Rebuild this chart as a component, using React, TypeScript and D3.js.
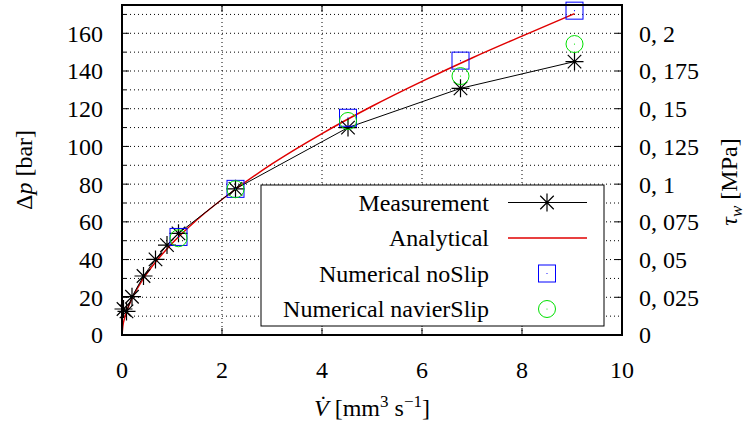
import React from "react";
import * as d3 from "d3";

// measurement (flow rate mm^3/s, pressure drop bar)
const measX = [0.03, 0.09, 0.2, 0.43, 0.67, 0.9, 1.13, 2.27, 4.52, 6.77, 9.05];
const measY = [13.8, 12.5, 20.3, 31.3, 40.1, 47.7, 53.9, 77.5, 110, 130.8, 145];

const anaX = [0, 0.02, 0.05, 0.1, 0.2, 0.4, 0.7, 1, 1.5, 2.27, 3, 4, 5, 6, 7, 8, 9.05];
const anaY = [0, 5.2, 8.8, 13.1, 19.4, 28.8, 39.6, 48.5, 61.1, 77.3, 90.7, 106.8, 121.3, 134.5, 146.9, 158.5, 170.4];

const noSlipX = [1.13, 2.27, 4.52, 6.77, 9.05];
const noSlipY = [52, 77.5, 115.2, 145.5, 172];

const navierX = [1.13, 2.27, 4.52, 6.77, 9.05];
const navierY = [51.3, 77.3, 113.5, 137.3, 154.3];

const xTicks = [0, 2, 4, 6, 8, 10];
const yTicks = [0, 20, 40, 60, 80, 100, 120, 140, 160];
const yMinor = [10, 30, 50, 70, 90, 110, 130, 150, 170];
const tauTicks = [0, 0.025, 0.05, 0.075, 0.1, 0.125, 0.15, 0.175, 0.2];

const legendItems = ["Measurement", "Analytical", "Numerical noSlip", "Numerical navierSlip"];

const W = 745;
const H = 425;
const margin = { left: 122, right: 123, top: 5, bottom: 90 };
const FONT = "Liberation Serif, DejaVu Serif, serif";

function star(cx: number, cy: number, r: number) {
  return `M${cx - r},${cy}L${cx + r},${cy}M${cx},${cy - r}L${cx},${cy + r}` +
    `M${cx - r * 0.75},${cy - r * 0.75}L${cx + r * 0.75},${cy + r * 0.75}` +
    `M${cx - r * 0.75},${cy + r * 0.75}L${cx + r * 0.75},${cy - r * 0.75}`;
}

const fmtTau = (d: number) => (d === 0 ? "0" : d3.format(".3~f")(d).replace(".", ", "));

export default function App() {
  const x = d3.scaleLinear().domain([0, 10]).range([margin.left, W - margin.right]);
  const y = d3.scaleLinear().domain([0, 175]).range([H - margin.bottom, margin.top]);
  const y2 = d3.scaleLinear().domain([0, 0.21875]).range([H - margin.bottom, margin.top]);

  const x0 = margin.left, x1 = W - margin.right;
  const y0 = H - margin.bottom, y1 = margin.top;

  const measLine = d3.line<[number, number]>().x((d) => x(d[0])).y((d) => y(d[1]));
  const measPts: [number, number][] = measX.map((v, i) => [v, measY[i]]);
  // sort by x for the connecting line
  const measSorted = [...measPts].sort((a, b) => a[0] - b[0]);
  const anaPts: [number, number][] = anaX.map((v, i) => [v, anaY[i]]);
  const anaLine = d3.line<[number, number]>().x((d) => x(d[0])).y((d) => y(d[1])).curve(d3.curveMonotoneX);

  const gridH = [...yTicks, ...yMinor].filter((v) => v > 0 && v < 175);
  const gridV = xTicks.filter((v) => v > 0 && v < 10);

  // legend geometry
  const lg = { left: 261, top: 185, right: 604, bottom: 326 };
  const rowY = [202.5, 238, 273.5, 309];
  const textRight = 489;
  const sampleL = 508, sampleR = 587, sampleM = 547;

  const txt = { fontFamily: FONT };

  return (
    <svg width={W} height={H} style={{ position: "absolute", left: 0, top: 0, background: "#fff", fontFamily: FONT }}>
      {/* grid */}
      <g stroke="#000" strokeWidth={1} strokeDasharray="1,3">
        {gridH.map((v) => (
          <line key={"h" + v} x1={x0} x2={x1} y1={y(v)} y2={y(v)} />
        ))}
        {gridV.map((v) => (
          <line key={"v" + v} x1={x(v)} x2={x(v)} y1={y0} y2={y1} />
        ))}
      </g>

      {/* ticks */}
      <g stroke="#000" strokeWidth={1}>
        {yTicks.map((v) => (
          <line key={"yt" + v} x1={x0} x2={x0 + 7} y1={y(v)} y2={y(v)} />
        ))}
        {yMinor.map((v) => (
          <line key={"ym" + v} x1={x0} x2={x0 + 4} y1={y(v)} y2={y(v)} />
        ))}
        {tauTicks.map((v) => (
          <line key={"tt" + v} x1={x1} x2={x1 - 7} y1={y2(v)} y2={y2(v)} />
        ))}
        {gridV.map((v) => (
          <g key={"xt" + v}>
            <line x1={x(v)} x2={x(v)} y1={y0} y2={y0 - 7} />
            <line x1={x(v)} x2={x(v)} y1={y1} y2={y1 + 7} />
          </g>
        ))}
      </g>

      {/* series */}
      <path d={anaLine(anaPts) || ""} fill="none" stroke="#e00000" strokeWidth={1.5} />
      <path d={measLine(measSorted) || ""} fill="none" stroke="#000" strokeWidth={1} />
      {measPts.map((d, i) => (
        <path key={"m" + i} d={star(x(d[0]), y(d[1]), 9)} stroke="#000" strokeWidth={1.2} fill="none" />
      ))}
      {noSlipX.map((v, i) => (
        <g key={"n" + i}>
          <rect x={x(v) - 8.5} y={y(noSlipY[i]) - 8.5} width={17} height={17} fill="none" stroke="#0000ff" strokeWidth={1} />
          <circle cx={x(v)} cy={y(noSlipY[i])} r={0.6} fill="#0000ff" />
        </g>
      ))}
      {navierX.map((v, i) => (
        <g key={"c" + i}>
          <circle cx={x(v)} cy={y(navierY[i])} r={8.5} fill="none" stroke="#00e000" strokeWidth={1} />
          <circle cx={x(v)} cy={y(navierY[i])} r={0.6} fill="#00e000" />
        </g>
      ))}

      {/* legend */}
      <rect x={lg.left} y={lg.top} width={lg.right - lg.left} height={lg.bottom - lg.top}
        fill="#fff" stroke="#000" strokeWidth={1} />
      {legendItems.map((t, i) => (
        <text key={t} style={txt} x={textRight} y={rowY[i]} dy="0.35em" textAnchor="end" fontSize={24}>{t}</text>
      ))}
      <line x1={sampleL} x2={sampleR} y1={rowY[0]} y2={rowY[0]} stroke="#000" strokeWidth={1} />
      <path d={star(sampleM, rowY[0], 9)} stroke="#000" strokeWidth={1.2} fill="none" />
      <line x1={sampleL} x2={sampleR} y1={rowY[1]} y2={rowY[1]} stroke="#e00000" strokeWidth={1.5} />
      <rect x={sampleM - 8.5} y={rowY[2] - 8.5} width={17} height={17} fill="none" stroke="#0000ff" strokeWidth={1} />
      <circle cx={sampleM} cy={rowY[2]} r={0.6} fill="#0000ff" />
      <circle cx={sampleM} cy={rowY[3]} r={8.5} fill="none" stroke="#00e000" strokeWidth={1} />
      <circle cx={sampleM} cy={rowY[3]} r={0.6} fill="#00e000" />

      {/* frame */}
      <rect x={x0} y={y1} width={x1 - x0} height={y0 - y1} fill="none" stroke="#000" strokeWidth={2} />

      {/* tick labels */}
      <g fontSize={24} fill="#000" style={txt}>
        {yTicks.map((v) => (
          <text key={"yl" + v} x={103} y={y(v)} dy="0.35em" textAnchor="end">{v}</text>
        ))}
        {tauTicks.map((v) => (
          <text key={"tl" + v} x={639} y={y2(v)} dy="0.35em" textAnchor="start">{fmtTau(v)}</text>
        ))}
        {xTicks.map((v) => (
          <text key={"xl" + v} x={x(v)} y={378} textAnchor="middle">{v}</text>
        ))}
      </g>

      {/* axis titles */}
      <text style={txt} transform={`translate(32,${(y0 + y1) / 2}) rotate(-90)`} textAnchor="middle" fontSize={24}>
        Δ<tspan fontStyle="italic">p</tspan> [bar]
      </text>
      <text style={txt} transform={`translate(737,182) rotate(-90)`} textAnchor="middle" fontSize={24}>
        <tspan fontStyle="italic">τ</tspan>
        <tspan fontStyle="italic" fontSize={17} dy={5}>w</tspan>
        <tspan dy={-5}> [MPa]</tspan>
      </text>
      <text style={txt} x={(x0 + x1) / 2} y={416} textAnchor="middle" fontSize={24}>
        <tspan fontStyle="italic">{"V\u0307"}</tspan> [mm
        <tspan fontSize={17} dy={-9}>3</tspan>
        <tspan dy={9}> s</tspan>
        <tspan fontSize={17} dy={-9}>−1</tspan>
        <tspan dy={9}>]</tspan>
      </text>
    </svg>
  );
}
